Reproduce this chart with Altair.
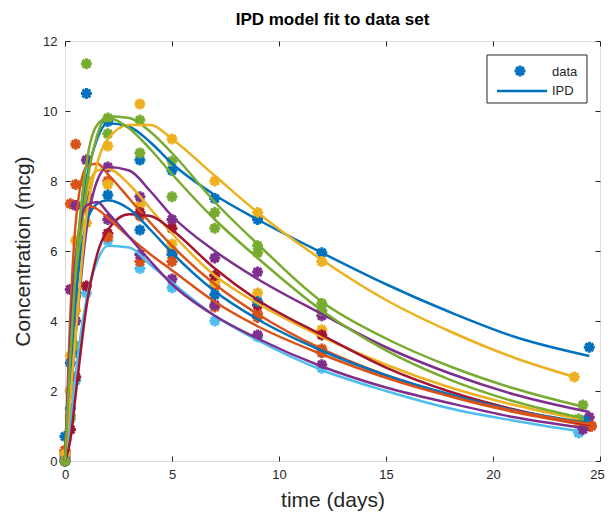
import altair as alt
import pandas as pd

# ---- data ----
SUBJECTS = [f"S{i}" for i in range(1, 13)]
COLORS = ["#0072BD", "#D95319", "#EDB120", "#7E2F8E", "#77AC30", "#4DBEEE", "#A2142F",
          "#0072BD", "#D95319", "#EDB120", "#7E2F8E", "#77AC30"]
END_T = [24.5, 24.6, 24.0, 24.5, 24.2, 24.0, 24.5, 24.3, 24.6, 23.8, 24.2, 24.0]

FIT_T = [0, 0.25, 0.5, 1, 1.5, 2, 3, 4, 5, 7, 9, 12, 15, 18, 21]
FIT_S1 = [0, 3.0, 5.3, 8.0, 9.2, 9.65, 9.55, 9.1, 8.5, 7.6, 6.9, 5.95, 5.05, 4.25, 3.55, 3.0]
FIT_S2 = [0, 4.2, 6.8, 8.4, 8.5, 8.2, 7.5, 6.8, 6.15, 5.05, 4.2, 3.2, 2.45, 1.85, 1.4, 1.0]
FIT_S3 = [0, 2.5, 4.8, 7.6, 8.3, 8.35, 7.9, 7.2, 6.5, 5.3, 4.5, 3.55, 2.75, 2.1, 1.6, 1.2]
FIT_S4 = [0, 1.8, 3.6, 6.6, 8.0, 8.4, 8.3, 7.7, 7.0, 6.0, 5.2, 4.2, 3.25, 2.5, 1.9, 1.4]
FIT_S5 = [0, 2.5, 4.8, 7.8, 9.3, 9.85, 9.8, 9.4, 8.8, 7.4, 6.2, 4.55, 3.5, 2.7, 2.07, 1.55]
FIT_S6 = [0, 1.0, 2.5, 4.6, 5.7, 6.15, 6.1, 5.6, 5.1, 4.15, 3.45, 2.6, 2.0, 1.5, 1.15, 0.85]
FIT_S7 = [0, 0.6, 1.9, 4.4, 5.9, 6.6, 7.05, 7.0, 6.6, 5.5, 4.6, 3.6, 2.67, 1.98, 1.47, 1.03]
FIT_S8 = [0, 2.6, 4.6, 6.8, 7.35, 7.45, 7.2, 6.6, 5.95, 4.85, 4.05, 3.15, 2.45, 1.9, 1.45, 1.1]
FIT_S9 = [0, 3.6, 5.8, 7.3, 7.2, 6.95, 6.4, 5.9, 5.45, 4.55, 3.85, 3.05, 2.38, 1.85, 1.43, 1.05]
FIT_S10 = [0, 1.8, 3.6, 7.0, 8.5, 9.2, 9.6, 9.6, 9.2, 8.15, 7.1, 5.75, 4.6, 3.7, 2.95, 2.4]
FIT_S11 = [0, 3.5, 5.8, 7.3, 7.4, 7.1, 6.4, 5.7, 5.05, 4.15, 3.5, 2.7, 2.1, 1.65, 1.25, 0.95]
FIT_S12 = [0, 3.0, 5.5, 8.5, 9.6, 9.8, 9.5, 8.9, 8.2, 6.9, 5.8, 4.3, 3.16, 2.32, 1.7, 1.25]
FITS = [FIT_S1, FIT_S2, FIT_S3, FIT_S4, FIT_S5, FIT_S6, FIT_S7, FIT_S8, FIT_S9, FIT_S10, FIT_S11, FIT_S12]

OBS_T = [0, 0.25, 0.5, 1, 2, 3.5, 5, 7, 9, 12]
OBS_S1 = [0.7, 1.5, 3.1, 10.5, 9.7, 8.6, 8.3, 7.5, 6.9, 5.95, 3.25]
OBS_S2 = [0.3, 7.35, 9.05, 7.9, 8.0, 7.0, 6.0, 5.0, 4.2, 3.2, 1.0]
OBS_S3 = [0.2, 3.0, 6.3, 8.0, 7.9, 7.3, 6.2, 5.1, 4.8, 3.75, 1.1]
OBS_S4 = [0.1, 2.0, 4.0, 8.6, 8.4, 7.55, 6.9, 5.8, 5.4, 4.15, 1.25]
OBS_S5 = [0.0, 1.2, 3.3, 11.35, 9.8, 9.74, 8.57, 7.1, 6.15, 4.5, 1.6]
OBS_S6 = [0.0, 0.9, 2.3, 4.8, 6.3, 5.5, 4.95, 4.0, 3.55, 2.65, 0.8]
OBS_S7 = [0.0, 0.9, 2.4, 5.0, 6.5, 7.1, 6.65, 5.3, 4.45, 3.6, 1.0]
OBS_S8 = [0.2, 2.8, 4.8, 7.4, 7.6, 6.6, 5.9, 4.75, 4.55, 3.1, 1.15]
OBS_S9 = [0.3, 4.9, 7.9, 7.2, 6.4, 5.7, 5.7, 4.4, 4.1, 3.1, 1.0]
OBS_S10 = [0.2, 2.0, 4.3, 6.8, 9.0, 10.2, 9.2, 8.0, 7.1, 5.7, 2.4]
OBS_S11 = [0.0, 4.9, 7.3, 7.6, 6.9, 5.9, 5.2, 4.46, 3.6, 2.75, 0.9]
OBS_S12 = [0.0, 1.3, 4.7, 8.0, 9.35, 8.8, 7.55, 6.65, 5.95, 4.3, 1.2]
OBSS = [OBS_S1, OBS_S2, OBS_S3, OBS_S4, OBS_S5, OBS_S6, OBS_S7, OBS_S8, OBS_S9, OBS_S10, OBS_S11, OBS_S12]

X_TICKS = [0, 5, 10, 15, 20, 25]
Y_TICKS = [0, 2, 4, 6, 8, 10, 12]

# ---- tables ----
fit_rows, obs_rows = [], []
for s, end, fit, obs in zip(SUBJECTS, END_T, FITS, OBSS):
    for t, v in zip(FIT_T + [end], fit):
        fit_rows.append({"subject": s, "t": t, "c": v})
    for t, v in zip(OBS_T + [end], obs):
        obs_rows.append({"subject": s, "t": t, "c": v})
fit_df = pd.DataFrame(fit_rows)
obs_df = pd.DataFrame(obs_rows)

AX = "#262626"
FONT = "Liberation Sans"
xs = alt.Scale(domain=[0, 25], nice=False, zero=False)
ys = alt.Scale(domain=[0, 12], nice=False, zero=False)
color = alt.Color("subject:N", scale=alt.Scale(domain=SUBJECTS, range=COLORS), legend=None)

ASTER = ("M-0.27,-1L0.27,-1L0.27,1L-0.27,1Z"
         "M-1,-0.27L1,-0.27L1,0.27L-1,0.27Z"
         "M-0.516,-0.898L0.898,0.516L0.516,0.898L-0.898,-0.516Z"
         "M-0.516,0.898L-0.898,0.516L0.516,-0.898L0.898,-0.516Z")
MSIZE = 120

points = alt.Chart(obs_df).mark_point(shape=ASTER, filled=True, size=MSIZE, opacity=1, strokeWidth=0).encode(
    x=alt.X("t:Q", scale=xs, title="time (days)",
            axis=alt.Axis(values=X_TICKS, tickSize=0, domain=False, grid=False, labelFlush=False,
                          labelOffset=alt.condition("datum.value == 25", alt.value(-3), alt.value(0)),
                          labelPadding=7, labelFontSize=13, labelFont=FONT, labelColor=AX,
                          titleFont=FONT, titleFontSize=21, titleFontWeight="normal",
                          titleColor=AX, titlePadding=8)),
    y=alt.Y("c:Q", scale=ys, title="Concentration (mcg)",
            axis=alt.Axis(values=Y_TICKS, tickSize=0, domain=False, grid=False, labelFlush=False,
                          labelPadding=8, labelFontSize=13, labelFont=FONT, labelColor=AX,
                          titleFont=FONT, titleFontSize=21, titleFontWeight="normal",
                          titleColor=AX, titlePadding=9)),
    color=color,
)

lines = alt.Chart(fit_df).mark_line(strokeWidth=2.5, interpolate="monotone").encode(
    x=alt.X("t:Q", scale=xs, axis=None),
    y=alt.Y("c:Q", scale=ys, axis=None),
    color=color,
    order=alt.Order("t:Q"),
)

tick_df = pd.DataFrame({"t": [0], "c": [0]})


def tick_layer(xo, yo):
    return alt.Chart(tick_df).mark_point(opacity=0).encode(
        x=alt.X("t:Q", scale=xs, title=None,
                axis=alt.Axis(orient=xo, offset=-5, tickSize=5, labels=False, domain=False,
                              grid=False, values=X_TICKS, tickColor=AX)),
        y=alt.Y("c:Q", scale=ys, title=None,
                axis=alt.Axis(orient=yo, offset=-5, tickSize=5, labels=False, domain=False,
                              grid=False, values=Y_TICKS, tickColor=AX)),
    )


one = pd.DataFrame({"k": [0]})
leg_box = alt.Chart(one).mark_rect(fill="white", stroke=AX, strokeWidth=1).encode(
    x=alt.value(422), x2=alt.value(522), y=alt.value(14), y2=alt.value(62))
leg_pt = alt.Chart(one).mark_point(shape=ASTER, filled=True, size=MSIZE, opacity=1,
                                   color=COLORS[0], strokeWidth=0).encode(
    x=alt.value(455), y=alt.value(30))
leg_line = alt.Chart(one).mark_rule(color=COLORS[0], strokeWidth=2.5).encode(
    x=alt.value(432), x2=alt.value(482), y=alt.value(50))
leg_txt1 = alt.Chart(one).mark_text(align="left", baseline="middle", fontSize=13, font=FONT,
                                    color=AX).encode(x=alt.value(487), y=alt.value(31),
                                                     text=alt.value("data"))
leg_txt2 = alt.Chart(one).mark_text(align="left", baseline="middle", fontSize=13, font=FONT,
                                    color=AX).encode(x=alt.value(487), y=alt.value(50),
                                                     text=alt.value("IPD"))

chart = alt.layer(
    points, lines, tick_layer("bottom", "left"), tick_layer("top", "right"),
    leg_box, leg_pt, leg_line, leg_txt1, leg_txt2,
).resolve_axis(x="independent", y="independent").properties(
    width=535, height=420,
    title=alt.Title("IPD model fit to data set", fontSize=17, fontWeight="bold", font=FONT,
                    color="#000000", anchor="middle", offset=6),
    autosize=alt.AutoSizeParams(type="none"),
    padding={"left": 57, "top": 33, "right": 5, "bottom": 55},
).configure_view(stroke=AX, strokeWidth=1).configure(background="white")

chart.save("out.html", embed_options={"renderer": "svg", "actions": False})
